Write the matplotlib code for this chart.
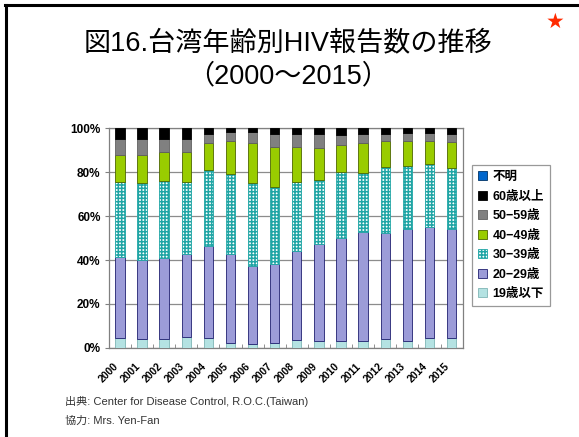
import numpy as np
import matplotlib
matplotlib.use("Agg")
import matplotlib.pyplot as plt
import matplotlib.transforms as mtransforms
from matplotlib.lines import Line2D
from matplotlib.patches import Patch

# fonts: latin first, CJK fallback
LAT = ['Liberation Sans', 'Noto Sans CJK JP', 'DejaVu Sans']
plt.rcParams['font.family'] = LAT
plt.rcParams['hatch.linewidth'] = 1.1

years = [str(y) for y in range(2000, 2016)]

# cumulative tops (%), bottom -> top
top_19 = [4.3, 4.1, 3.8, 4.7, 4.3, 2.0, 1.5, 2.0, 3.5, 3.2, 3.2, 3.2, 3.8, 3.2, 4.3, 4.3]
top_20 = [41.5, 40.0, 41.0, 42.7, 46.5, 42.9, 37.2, 38.4, 43.9, 47.1, 50.0, 52.6, 52.1, 54.0, 55.0, 54.0]
top_30 = [75.5, 75.2, 76.0, 75.7, 80.9, 79.2, 75.2, 73.1, 75.8, 76.4, 80.2, 79.9, 82.5, 83.0, 83.6, 82.2]
top_40 = [87.8, 88.1, 89.1, 89.1, 93.5, 94.4, 93.5, 91.6, 91.6, 91.2, 92.4, 93.2, 94.1, 94.4, 94.4, 93.9]
top_50 = [95.4, 95.1, 95.0, 95.4, 97.4, 98.2, 98.2, 97.4, 97.7, 97.7, 97.0, 97.7, 97.7, 98.0, 98.0, 97.7]
top_60 = [100.0] * 16
unknown = [0.0] * 16

age_labels = ['19歳以下', '20−29歳', '30−39歳', '40−49歳', '50−59歳', '60歳以上', '不明']
tops = [top_19, top_20, top_30, top_40, top_50, top_60]

face = ['#b4e2e2', '#9c9cd8', 'white', '#99cc00', '#808080', '#000000', '#0066cc']
edge = ['#7fb5b5', '#202070', '#1fa5a5', '#4d6600', '#606060', '#000000', '#003366']
hatch = [None, None, '+++++', None, None, None, None]

fig = plt.figure(figsize=(5.79, 4.37), dpi=100)
ax = fig.add_axes([0.188, 0.2043, 0.611, 0.5017])

x = np.arange(len(years))
bottom = np.zeros(len(years))
for i, t in enumerate(tops):
    t = np.array(t)
    h = t - bottom
    ax.bar(x, h, 0.42, bottom=bottom, color=face[i], edgecolor=edge[i],
           hatch=hatch[i], linewidth=0.6, zorder=3)
    bottom = t
ax.bar(x, unknown, 0.42, bottom=bottom, color=face[6], zorder=3)

ax.set_xlim(-0.5, len(years) - 0.5)
ax.set_ylim(0, 100)
ax.set_yticks(range(0, 101, 20))
ax.set_yticklabels([f'{v}%' for v in range(0, 101, 20)], fontsize=8.5, fontweight='bold')
ax.yaxis.grid(True, color='#8c8c8c', linewidth=0.9, zorder=0)
ax.tick_params(axis='y', length=3, color='#808080', pad=3)

ax.set_xticks(x)
ax.set_xticklabels(years, rotation=45, ha='right', va='top', rotation_mode='anchor',
                   fontsize=7.5, fontweight='bold')
ax.tick_params(axis='x', length=0, pad=4)
shift = mtransforms.ScaledTranslation(-0.07, -0.08, fig.dpi_scale_trans)
for lab in ax.get_xticklabels():
    lab.set_transform(lab.get_transform() + shift)
ax.set_xticks(np.arange(-0.5, len(years), 1), minor=True)
ax.tick_params(axis='x', which='minor', direction='in', length=3, color='#808080')
for s in ax.spines.values():
    s.set_color('#808080')
    s.set_linewidth(0.9)

handles = [Patch(facecolor=face[i], edgecolor=edge[i], hatch=hatch[i], linewidth=0.6)
           for i in range(7)][::-1]
leg = ax.legend(handles, age_labels[::-1], loc='upper left', bbox_to_anchor=(1.01, 0.86),
                prop={'family': LAT, 'size': 9, 'weight': 'bold'},
                handlelength=0.75, handleheight=0.75, handletextpad=0.4,
                labelspacing=0.6, borderpad=0.45, fancybox=False, frameon=True)
leg.get_frame().set_edgecolor('#808080')
leg.get_frame().set_linewidth(0.9)

# titles
fig.text(0.497, 0.9, '図16.台湾年齢別HIV報告数の推移', ha='center', va='center',
         fontsize=19.5, family=LAT)
fig.text(0.497, 0.826, '（2000～2015）', ha='center', va='center',
         fontsize=19.5, family=LAT)

# star
fig.text(0.958, 0.95, '★', ha='center', va='center', fontsize=15,
         color='#ff2a00', family=['DejaVu Sans'])

# notes
fig.text(0.112, 0.082, '出典: Center for Disease Control, R.O.C.(Taiwan)', ha='left',
         va='center', fontsize=8, color='#333333')
fig.text(0.112, 0.037, '協力: Mrs. Yen-Fan', ha='left', va='center', fontsize=8,
         color='#333333')

# slide frame
fig.add_artist(Line2D([0.009, 1.0], [0.988, 0.988], color='black', lw=2.2,
                      transform=fig.transFigure))
fig.add_artist(Line2D([0.010, 0.010], [0.0, 0.988], color='black', lw=2.2,
                      transform=fig.transFigure))

fig.savefig('out.png', dpi=100)
